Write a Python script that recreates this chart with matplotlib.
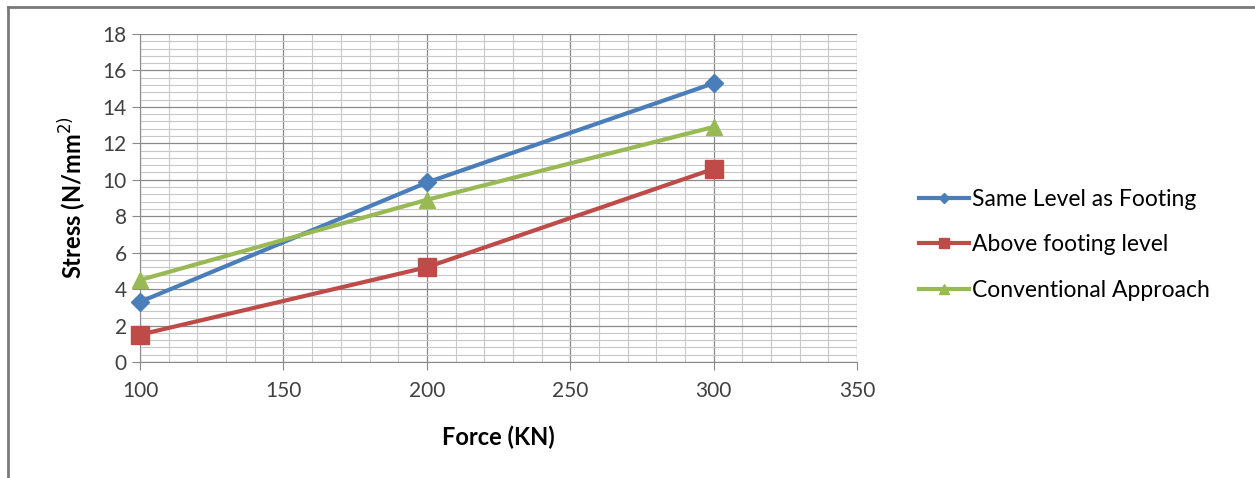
import matplotlib.pyplot as plt
from matplotlib.ticker import MultipleLocator
from matplotlib.lines import Line2D

plt.rcParams['font.family'] = ['Lato', 'DejaVu Sans']

force = [100, 200, 300]
same_level = [3.3, 9.85, 15.3]
above_footing = [1.5, 5.2, 10.6]
conventional = [4.5, 8.9, 12.9]

series = [
    ("Same Level as Footing", same_level, "#4a7ebb", "D", 9),
    ("Above footing level", above_footing, "#be4b48", "s", 13),
    ("Conventional Approach", conventional, "#98b954", "^", 12),
]

fig = plt.figure(figsize=(12.55, 4.78), dpi=100)
ax = fig.add_axes([0.1116, 0.2427, 0.5714, 0.6862])

# outer chart border (top and left only visible)
fig.add_artist(Line2D([8 / 1255, 8 / 1255], [0, 1 - 7 / 478], color="#7a7a7a", lw=2))
fig.add_artist(Line2D([8 / 1255, 1], [1 - 7 / 478, 1 - 7 / 478], color="#7a7a7a", lw=2))

for name, vals, col, mk, ms in series:
    ax.plot(force, vals, color=col, lw=3, marker=mk, markersize=ms,
            markerfacecolor=col, markeredgecolor=col, label=name, zorder=3,
            clip_on=False)

ax.set_xlim(100, 350)
ax.set_ylim(0, 18)
ax.xaxis.set_major_locator(MultipleLocator(50))
ax.xaxis.set_minor_locator(MultipleLocator(10))
ax.yaxis.set_major_locator(MultipleLocator(2))
ax.yaxis.set_minor_locator(MultipleLocator(0.4))

ax.grid(which="major", color="#8a8a8a", lw=0.9)
ax.grid(which="minor", color="#c8c8c8", lw=0.8)
ax.set_axisbelow(True)

for s in ["top", "right"]:
    ax.spines[s].set_visible(False)
ax.spines["left"].set_color("#8a8a8a")
ax.spines["bottom"].set_color("#8a8a8a")
ax.tick_params(which="major", length=6, color="#8a8a8a", labelsize=15, labelcolor="#404040")
ax.tick_params(which="minor", length=0)
ax.tick_params(axis="x", pad=8)

ax.set_xlabel("Force (KN)", fontsize=17, fontweight="bold", labelpad=17)
ax.set_ylabel("Stress (N/mm$^{2)}$", fontsize=17, fontweight="bold", labelpad=10)

ax.legend(loc="center left", bbox_to_anchor=(1.07, 0.357), frameon=False,
          fontsize=16.5, handlelength=2.2, handletextpad=0.1, labelspacing=1.07,
          markerscale=0.6, borderpad=0)

fig.savefig("out.png", dpi=100)
